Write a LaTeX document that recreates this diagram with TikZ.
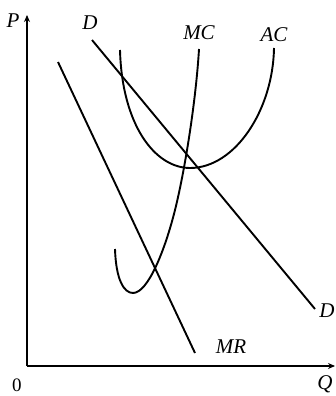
\documentclass[tikz,border=0pt]{standalone}
\usepackage{fontspec}
\setmainfont{Liberation Serif}
\usetikzlibrary{arrows.meta}
\begin{document}
\begin{tikzpicture}[x=1pt,y=-1pt,
  curve/.style={line width=1.9pt,black},
  axis/.style={line width=1.9pt,black,-{Stealth[length=7pt,width=6pt]}},
  lbl/.style={inner sep=0pt,font=\fontsize{21}{24}\selectfont\itshape}]
\useasboundingbox (0,0) rectangle (336,396);
% axes
\coordinate (O) at (27,366);
\coordinate (Ptop) at (27,15);
\coordinate (Qend) at (335,366);
\draw[axis] (O) -- (Ptop);
\draw[axis] (O) -- (Qend);
\node[lbl] (P) at (13,21) {P};
\node[lbl,font=\fontsize{19}{22}\selectfont] (zero) at (17,385) {0};
\node[lbl] (Q) at (325,384) {Q};
% demand
\coordinate (D1) at (92,40);
\coordinate (D2) at (315,309);
\draw[curve] (D1) -- (D2);
\node[lbl] (Dt) at (90,23) {D};
\node[lbl] (Db) at (327,311) {D};
% marginal revenue
\coordinate (MR1) at (58,62);
\coordinate (MR2) at (195,353);
\draw[curve] (MR1) -- (MR2);
\node[lbl] (MR) at (231,347) {MR};
% marginal cost
\coordinate (MCs) at (115,249);
\coordinate (MCmin) at (133,293);
\coordinate (MCmid) at (175,210);
\coordinate (MCe) at (199,49);
\draw[curve] (MCs) .. controls (116,280) and (124,293) .. (MCmin)
  .. controls (148,293) and (165,250) .. (MCmid)
  .. controls (185,170) and (196,100) .. (MCe);
\node[lbl] (MC) at (199,33) {MC};
% average cost
\coordinate (ACs) at (120,50);
\coordinate (ACmin) at (190,168);
\coordinate (ACe) at (274,48);
\draw[curve] (ACs) .. controls (122,125) and (155,168) .. (ACmin)
  .. controls (235,168) and (273,110) .. (ACe);
\node[lbl] (AC) at (274,35) {AC};
\end{tikzpicture}
\end{document}
